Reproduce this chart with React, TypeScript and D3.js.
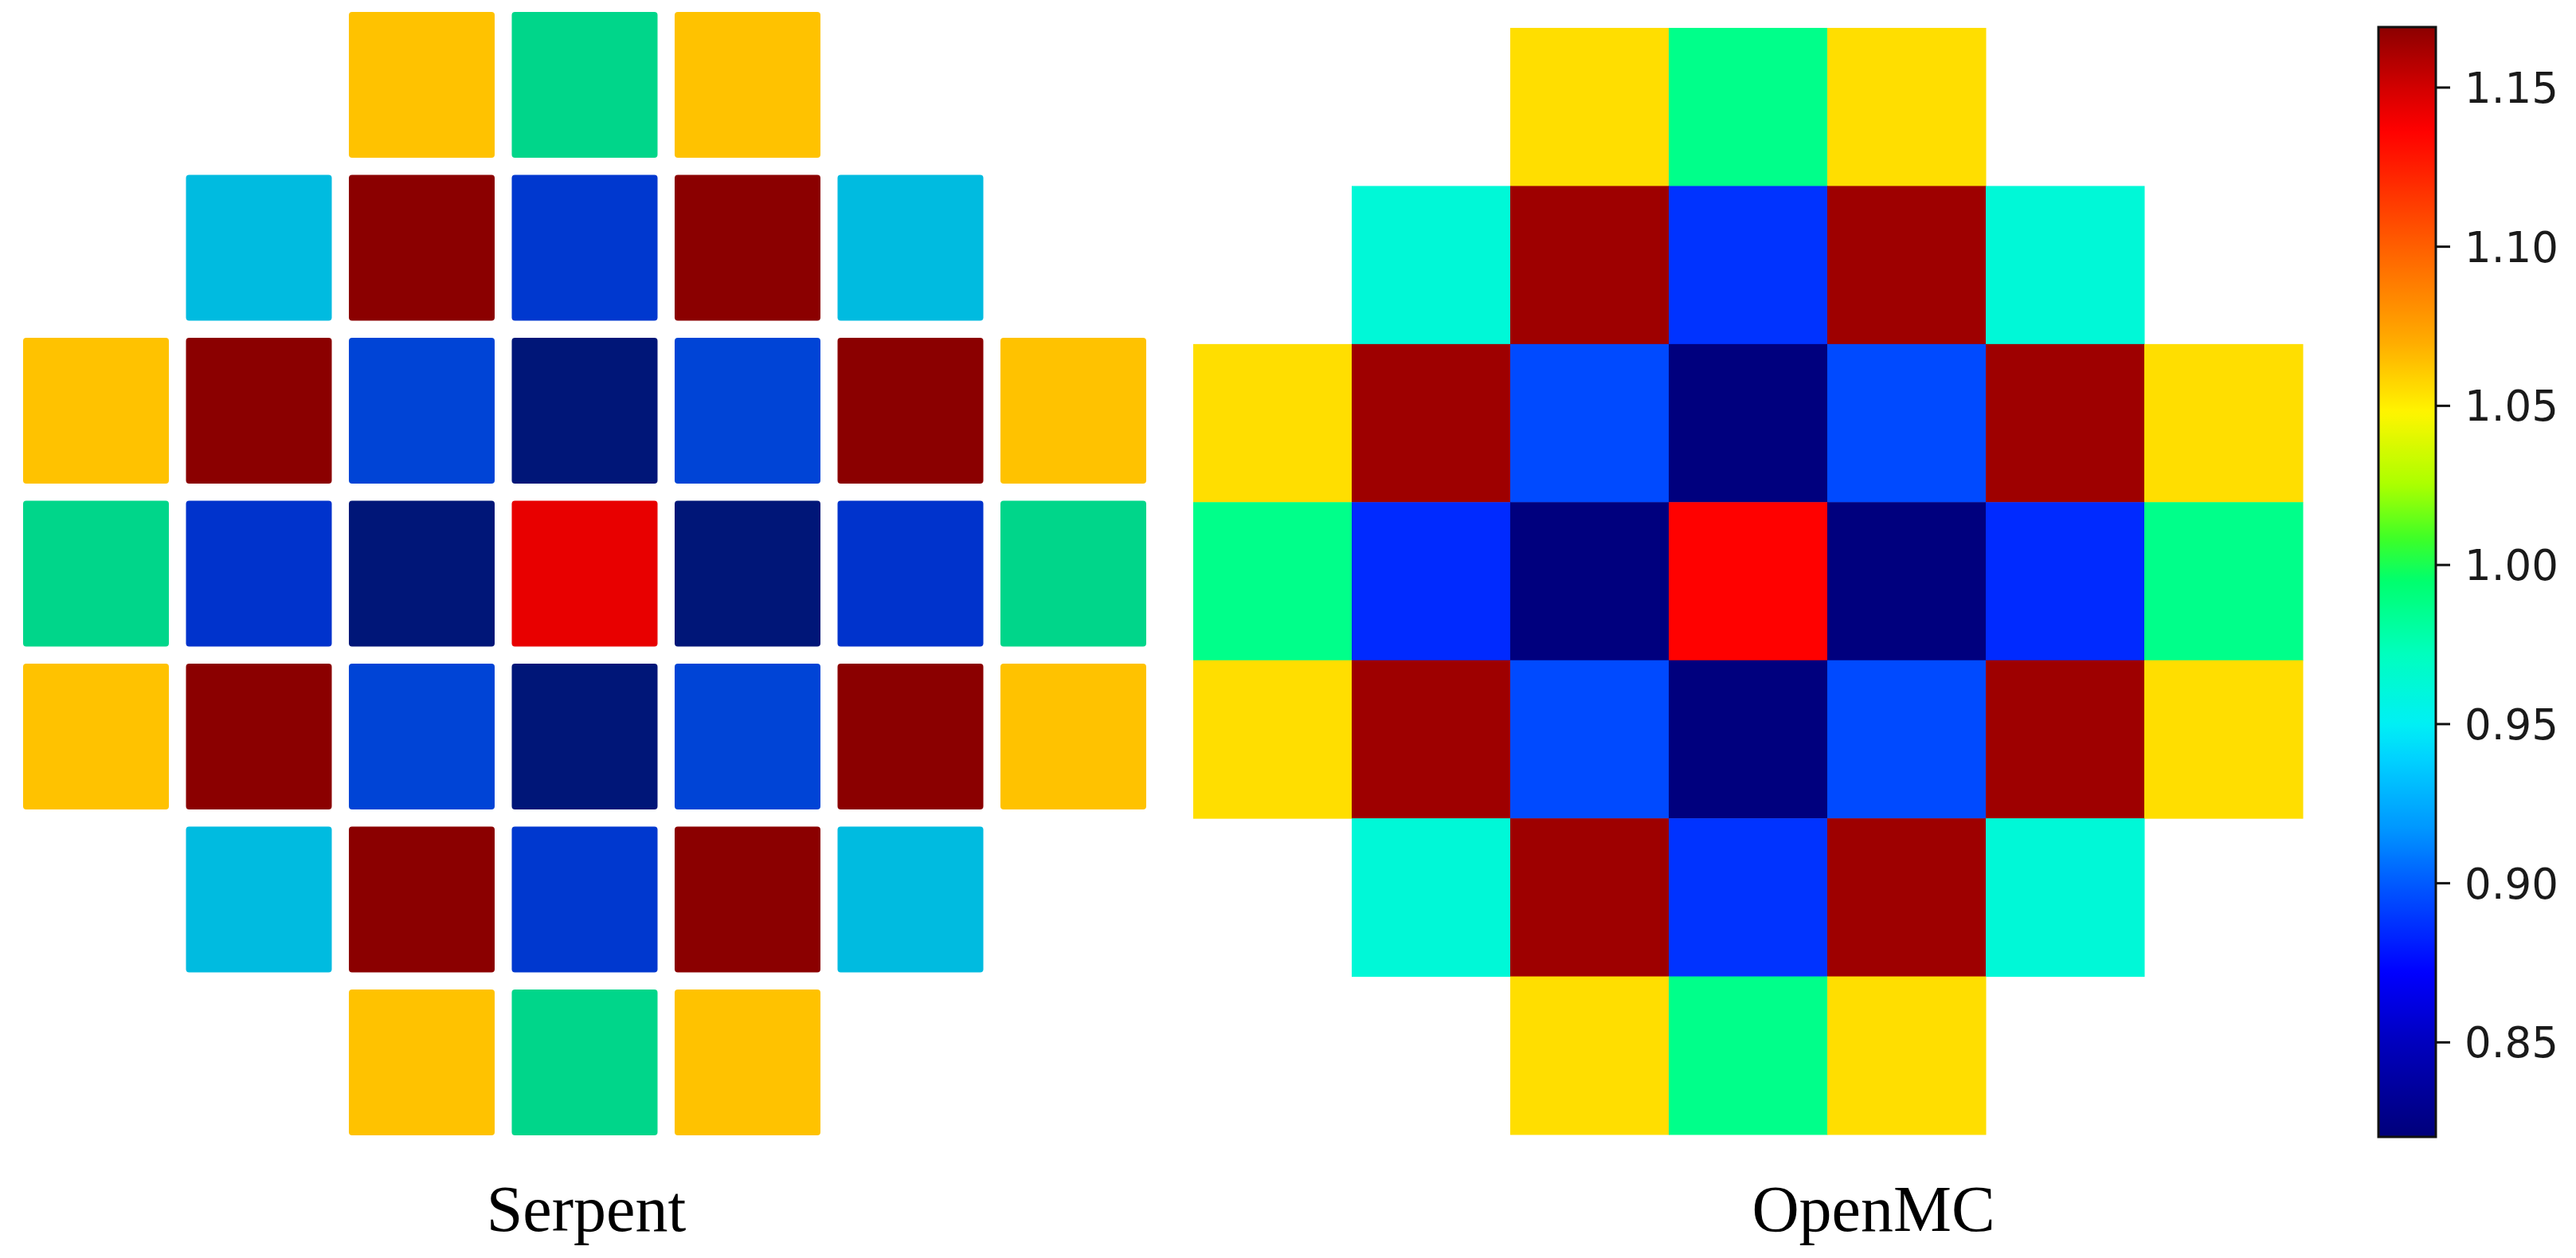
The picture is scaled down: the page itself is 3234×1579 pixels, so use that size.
import React from "react";
import * as d3 from "d3";

// ---- data ----
const rows = [0, 1, 2, 3, 4, 5, 6];
const cols = [0, 1, 2, 3, 4, 5, 6];

const openmcValues: (number | null)[][] = [
  [null, null, 1.055, 0.987, 1.055, null, null],
  [null, 0.962, 1.164, 0.888, 1.164, 0.962, null],
  [1.055, 1.164, 0.895, 0.822, 0.895, 1.164, 1.055],
  [0.987, 0.885, 0.822, 1.136, 0.822, 0.885, 0.987],
  [1.055, 1.164, 0.895, 0.822, 0.895, 1.164, 1.055],
  [null, 0.962, 1.164, 0.888, 1.164, 0.962, null],
  [null, null, 1.055, 0.987, 1.055, null, null],
];

const serpentValues: (number | null)[][] = [
  [null, null, 1.055, 0.987, 1.055, null, null],
  [null, 0.962, 1.164, 0.888, 1.164, 0.962, null],
  [1.055, 1.164, 0.895, 0.822, 0.895, 1.164, 1.055],
  [0.987, 0.885, 0.822, 1.136, 0.822, 0.885, 0.987],
  [1.055, 1.164, 0.895, 0.822, 0.895, 1.164, 1.055],
  [null, 0.962, 1.164, 0.888, 1.164, 0.962, null],
  [null, null, 1.055, 0.987, 1.055, null, null],
];

// Serpent rendering palette (value -> colour stops)
const serpentStopValues = [0.822, 0.885, 0.895, 0.962, 0.987, 1.055, 1.136, 1.164];
const serpentStopColors = ["#001678", "#0033cc", "#0044d6", "#00bbe0", "#00d68a", "#ffc200", "#e80000", "#8b0000"];

// OpenMC colormap (value -> colour stops)
const cmapStopValues = [0.8203, 0.85, 0.872, 0.9, 0.917, 0.939, 0.95, 0.972, 0.995, 1.008, 1.025, 1.048, 1.069, 1.1, 1.1365, 1.15, 1.169];
const cmapStopColors = [
  "#00007a", "#0000be", "#0000ff", "#005aff", "#0096ff", "#00d2ff", "#00f0f5", "#00ffbe",
  "#00ff6e", "#3cff28", "#aaff00", "#fff500", "#ffaf00", "#ff5f00", "#ff0000", "#d20000", "#8c0000",
];

const colorbarDomain = [0.8203, 1.169];
const colorbarTicks = [0.85, 0.9, 0.95, 1.0, 1.05, 1.1, 1.15];
const panelLabels = ["Serpent", "OpenMC"];

export default function App() {
  const W = 3234, H = 1579;

  // Serpent grid
  const sx = d3.scaleBand<number>().domain(cols).range([18.25, 1449.75]).paddingInner(0.105).paddingOuter(0.0525);
  const sy = d3.scaleBand<number>().domain(rows).range([4.25, 1435.75]).paddingInner(0.105).paddingOuter(0.0525);
  const serpentColor = d3.scaleLinear<string>().domain(serpentStopValues).range(serpentStopColors).interpolate(d3.interpolateRgb).clamp(true);

  // OpenMC grid
  const ox = d3.scaleBand<number>().domain(cols).range([1498, 2891]);
  const oy = d3.scaleBand<number>().domain(rows).range([35, 1424]);
  const openColor = d3.scaleLinear<string>().domain(cmapStopValues).range(cmapStopColors).interpolate(d3.interpolateRgb).clamp(true);

  // Colorbar
  const cbX = 2986, cbW = 72;
  const cbY = d3.scaleLinear().domain(colorbarDomain).range([1427, 34]);
  const span = colorbarDomain[1] - colorbarDomain[0];
  const stops = d3.range(0, 201).map((i) => i / 200);

  return (
    <svg width={W} height={H} style={{ position: "absolute", left: 0, top: 0, background: "#fff" }}>
      <rect x={0} y={0} width={W} height={H} fill="#fff" />
      <defs>
        <linearGradient id="cbgrad" x1="0" y1="1" x2="0" y2="0">
          {stops.map((s) => (
            <stop key={s} offset={s} stopColor={openColor(colorbarDomain[0] + s * span)} />
          ))}
        </linearGradient>
      </defs>

      {/* Serpent */}
      <g>
        {serpentValues.map((row, r) =>
          row.map((v, c) =>
            v == null ? null : (
              <rect key={`s${r}-${c}`} x={sx(c)} y={sy(r)} width={sx.bandwidth()} height={sy.bandwidth()} rx={4} fill={serpentColor(v)} />
            )
          )
        )}
      </g>

      {/* OpenMC */}
      <g>
        {openmcValues.map((row, r) =>
          row.map((v, c) =>
            v == null ? null : (
              <rect key={`o${r}-${c}`} x={ox(c)} y={oy(r)} width={ox.bandwidth() + 0.5} height={oy.bandwidth() + 0.5} fill={openColor(v)} />
            )
          )
        )}
      </g>

      {/* Colorbar */}
      <g>
        <rect x={cbX} y={cbY(colorbarDomain[1])} width={cbW} height={cbY(colorbarDomain[0]) - cbY(colorbarDomain[1])} fill="url(#cbgrad)" stroke="#111" strokeWidth={3} />
        {colorbarTicks.map((t) => (
          <g key={t} transform={`translate(${cbX + cbW},${cbY(t)})`}>
            <line x1={0} x2={18} y1={0} y2={0} stroke="#111" strokeWidth={3} />
            <text x={36} y={0} dy="0.36em" fontFamily="DejaVu Sans, sans-serif" fontSize={53} fill="#1a1a1a">
              {d3.format(".2f")(t)}
            </text>
          </g>
        ))}
      </g>

      {/* Labels */}
      <text x={736} y={1545} textAnchor="middle" fontFamily="Liberation Serif, Times New Roman, serif" fontSize={82} fill="#000">
        {panelLabels[0]}
      </text>
      <text x={2352} y={1545} textAnchor="middle" fontFamily="Liberation Serif, Times New Roman, serif" fontSize={82} fill="#000">
        {panelLabels[1]}
      </text>
    </svg>
  );
}
